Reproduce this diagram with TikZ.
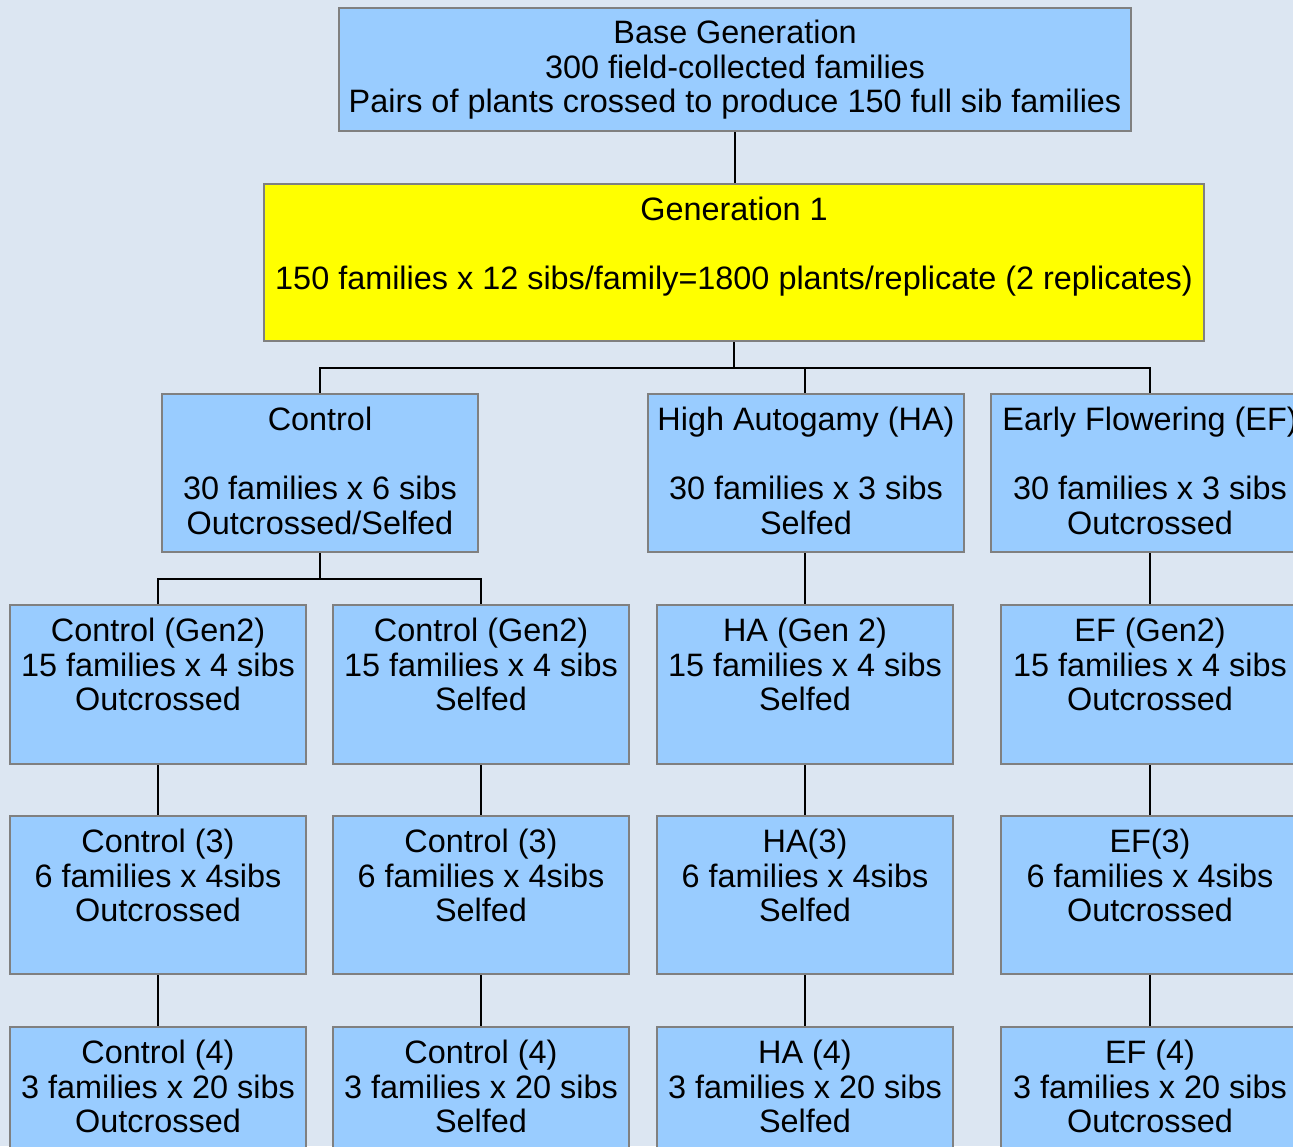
\documentclass[tikz,border=0pt]{standalone}
\usepackage{fontspec}
\setmainfont{Liberation Sans}
\usetikzlibrary{fit}
\definecolor{bg}{HTML}{DCE6F2}
\definecolor{boxblue}{HTML}{99CCFF}
\definecolor{boxedge}{HTML}{808080}
\definecolor{ybright}{HTML}{FFFF00}
\tikzset{
  box/.style={draw=boxedge, line width=1pt, fill=boxblue, inner sep=0pt},
  ybox/.style={box, fill=ybright},
  lbl/.style={anchor=north, inner sep=0pt, align=center, font=\fontsize{16.2}{17.25}\selectfont},
  conn/.style={draw=black, line width=1pt}
}
\begin{document}
\begin{tikzpicture}[x=0.5pt,y=-0.5pt]
\useasboundingbox (0,0) rectangle (1293,1146);
\fill[bg] (0,0) rectangle (1293,1146);
\clip (0,0) rectangle (1293,1146);
% boxes
\node[box, fit={(339,8)(1131,131)}] (base) {};
\node[ybox, fit={(264,184)(1204,341)}] (gen1) {};
\node[box, fit={(162,394)(478,552)}] (ctrl) {};
\node[box, fit={(648,394)(964,552)}] (ha) {};
\node[box, fit={(991,394)(1309,552)}] (ef) {};
\node[box, fit={(10,605)(306,764)}] (c2a) {};
\node[box, fit={(333,605)(629,764)}] (c2b) {};
\node[box, fit={(657,605)(953,764)}] (ha2) {};
\node[box, fit={(1001,605)(1299,764)}] (ef2) {};
\node[box, fit={(10,816)(306,974)}] (c3a) {};
\node[box, fit={(333,816)(629,974)}] (c3b) {};
\node[box, fit={(657,816)(953,974)}] (ha3) {};
\node[box, fit={(1001,816)(1299,974)}] (ef3) {};
\node[box, fit={(10,1027)(306,1186)}] (c4a) {};
\node[box, fit={(333,1027)(629,1186)}] (c4b) {};
\node[box, fit={(657,1027)(953,1186)}] (ha4) {};
\node[box, fit={(1001,1027)(1299,1186)}] (ef4) {};
% labels
\node[lbl] (tbase) at ([yshift=-6pt]base.north) {\strut Base Generation\\300 field-collected families\\Pairs of plants crossed to produce 150 full sib families};
\node[lbl] (tgen1) at ([yshift=-6.5pt]gen1.north) {\strut Generation 1\\[17.25pt]150 families x 12 sibs/family=1800 plants/replicate (2 replicates)};
\node[lbl] (tctrl) at ([yshift=-6.5pt]ctrl.north) {\strut Control\\[17.25pt]30 families x 6 sibs\\Outcrossed/Selfed};
\node[lbl] (tha) at ([yshift=-6.5pt]ha.north) {\strut High Autogamy (HA)\\[17.25pt]30 families x 3 sibs\\Selfed};
\node[lbl] (tef) at ([yshift=-6.5pt]ef.north) {\strut Early Flowering (EF)\\[17.25pt]30 families x 3 sibs\\Outcrossed};
\node[lbl] (tc2a) at ([yshift=-6.5pt]c2a.north) {\strut Control (Gen2)\\15 families x 4 sibs\\Outcrossed};
\node[lbl] (tc2b) at ([yshift=-6.5pt]c2b.north) {\strut Control (Gen2)\\15 families x 4 sibs\\Selfed};
\node[lbl] (tha2) at ([yshift=-6.5pt]ha2.north) {\strut HA (Gen 2)\\15 families x 4 sibs\\Selfed};
\node[lbl] (tef2) at ([yshift=-6.5pt]ef2.north) {\strut EF (Gen2)\\15 families x 4 sibs\\Outcrossed};
\node[lbl] (tc3a) at ([yshift=-6.5pt]c3a.north) {\strut Control (3)\\6 families x 4sibs\\Outcrossed};
\node[lbl] (tc3b) at ([yshift=-6.5pt]c3b.north) {\strut Control (3)\\6 families x 4sibs\\Selfed};
\node[lbl] (tha3) at ([yshift=-6.5pt]ha3.north) {\strut HA(3)\\6 families x 4sibs\\Selfed};
\node[lbl] (tef3) at ([yshift=-6.5pt]ef3.north) {\strut EF(3)\\6 families x 4sibs\\Outcrossed};
\node[lbl] (tc4a) at ([yshift=-6.5pt]c4a.north) {\strut Control (4)\\3 families x 20 sibs\\Outcrossed};
\node[lbl] (tc4b) at ([yshift=-6.5pt]c4b.north) {\strut Control (4)\\3 families x 20 sibs\\Selfed};
\node[lbl] (tha4) at ([yshift=-6.5pt]ha4.north) {\strut HA (4)\\3 families x 20 sibs\\Selfed};
\node[lbl] (tef4) at ([yshift=-6.5pt]ef4.north) {\strut EF (4)\\3 families x 20 sibs\\Outcrossed};
% connectors
\coordinate (bus1) at (735,368);
\coordinate (bus2) at (320,579);
\draw[conn] (base.south) -- (base.south |- gen1.north);
\draw[conn] (gen1.south) -- (gen1.south |- bus1);
\draw[conn] (ctrl.north) |- (ef.north |- bus1) -- (ef.north);
\draw[conn] (ha2.north |- bus1) -- (ha2.north |- ha.north);
\draw[conn] (ctrl.south) -- (ctrl.south |- bus2);
\draw[conn] (c2a.north) |- (c2b.north |- bus2) -- (c2b.north);
\draw[conn] (ha2.north |- ha.south) -- (ha2.north);
\draw[conn] (ef.south) -- (ef2.north);
\draw[conn] (c2a.south) -- (c3a.north);
\draw[conn] (c2b.south) -- (c3b.north);
\draw[conn] (ha2.south) -- (ha3.north);
\draw[conn] (ef2.south) -- (ef3.north);
\draw[conn] (c3a.south) -- (c4a.north);
\draw[conn] (c3b.south) -- (c4b.north);
\draw[conn] (ha3.south) -- (ha4.north);
\draw[conn] (ef3.south) -- (ef4.north);
\end{tikzpicture}
\end{document}
